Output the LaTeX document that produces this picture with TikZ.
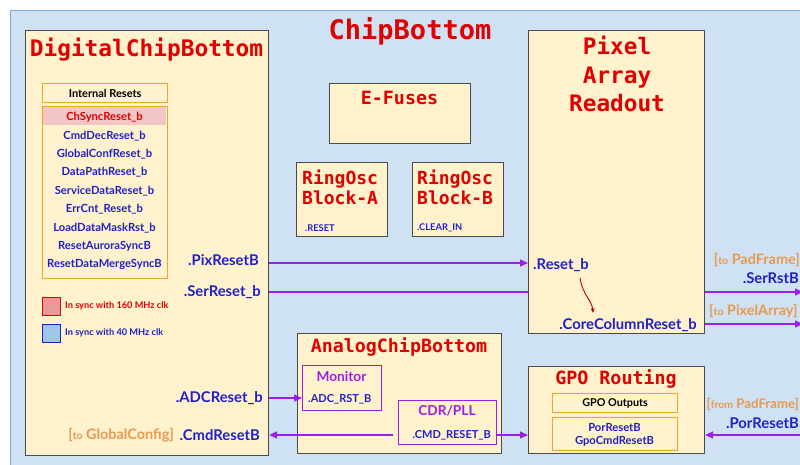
\documentclass[tikz,border=0pt]{standalone}
\usepackage{fontspec}
\setmainfont{Lato}
\newfontfamily\mono{DejaVu Sans Mono}
\usetikzlibrary{arrows.meta}
\definecolor{chipbg}{HTML}{CFE2F3}
\definecolor{chipline}{HTML}{7EA9E0}
\definecolor{blockfill}{HTML}{FFF2CC}
\definecolor{blockline}{HTML}{4A4A4A}
\definecolor{titlered}{HTML}{E00000}
\definecolor{sigblue}{HTML}{2020C8}
\definecolor{portorange}{HTML}{E89A50}
\definecolor{boxorange}{HTML}{F0A526}
\definecolor{wire}{HTML}{9B1FE8}
\definecolor{pinkrow}{HTML}{F2C6C6}
\definecolor{legred}{HTML}{EA9999}
\definecolor{legblue}{HTML}{9FC5E8}
\tikzset{
  block/.style={draw=blockline, fill=blockfill, line width=1.1pt, anchor=north west, inner sep=0pt},
  subbox/.style={draw=boxorange, line width=1.3pt, anchor=north west, inner sep=0pt},
  anabox/.style={draw=wire, line width=1.3pt, anchor=north west, inner sep=0pt},
  btitle/.style={text=titlered, font=\mono\bfseries, align=center, inner sep=0pt},
  item/.style={text=sigblue, font=\bfseries\fontsize{11.2}{12}\selectfont, inner sep=0pt},
  port/.style={text=sigblue, font=\bfseries\fontsize{14.8}{15}\selectfont, inner sep=0pt},
  smallport/.style={text=sigblue, font=\bfseries\fontsize{11}{12}\selectfont, inner sep=0pt},
  tinyport/.style={text=sigblue, font=\bfseries\fontsize{9.3}{10}\selectfont, inner sep=0pt},
  tagtext/.style={text=portorange, font=\bfseries\fontsize{14.4}{15}\selectfont, inner sep=0pt},
  legendtext/.style={font=\bfseries\fontsize{9.2}{10}\selectfont, inner sep=0pt, anchor=west},
  sig/.style={draw=wire, line width=1.4pt, -{Triangle[length=8pt,width=7pt]}}
}
\newcommand{\tosmall}[1]{{\fontsize{10.5}{11}\selectfont #1}}
\begin{document}
\begin{tikzpicture}[x=1pt,y=-1pt]
\useasboundingbox (0,0) rectangle (800,465);
% outer chip area
\fill[white] (0,0) rectangle (800,465);
\node[draw=chipline, fill=chipbg, line width=1pt, anchor=north west, minimum width=820pt, minimum height=480pt, inner sep=0pt] (chip) at (10,10) {};
\node[btitle, font=\mono\bfseries\fontsize{27}{28}\selectfont] (chiptitle) at (410,31) {ChipBottom};

% digital block
\node[block, minimum width=243pt, minimum height=425pt] (dig) at (25,30) {};
\node[btitle, font=\mono\bfseries\fontsize{22.8}{24}\selectfont] (digtitle) at (146.5,50) {DigitalChipBottom};
\node[subbox, fill=blockfill, minimum width=125pt, minimum height=19pt] (irhead) at (42,83) {};
\node[font=\bfseries\fontsize{11}{12}\selectfont, inner sep=0pt] (irheadtext) at (irhead.center) {Internal Resets};
\node[subbox, minimum width=125pt, minimum height=172pt] (irlist) at (42,106) {};
\fill[pinkrow] ([xshift=0.7pt,yshift=-0.7pt]irlist.north west) rectangle ([xshift=-0.7pt]167,125);
\node[item, text=titlered] (r1) at (104.5,117) {ChSyncReset\_b};
\node[item] (r2) at (104.5,136) {CmdDecReset\_b};
\node[item] (r3) at (104.5,154) {GlobalConfReset\_b};
\node[item] (r4) at (104.5,172) {DataPathReset\_b};
\node[item] (r5) at (104.5,191) {ServiceDataReset\_b};
\node[item] (r6) at (104.5,209) {ErrCnt\_Reset\_b};
\node[item] (r7) at (104.5,228) {LoadDataMaskRst\_b};
\node[item] (r8) at (104.5,246) {ResetAuroraSyncB};
\node[item] (r9) at (104.5,264) {ResetDataMergeSyncB};
% legend
\node[draw=titlered, fill=legred, line width=1.2pt, minimum size=18pt, anchor=north west, inner sep=0pt] (legr) at (42,297) {};
\node[legendtext, text=titlered] (legrtext) at (65,306) {In sync with 160 MHz clk};
\node[draw=sigblue, fill=legblue, line width=1.2pt, minimum size=18pt, anchor=north west, inner sep=0pt] (legb) at (42,324) {};
\node[legendtext, text=sigblue] (legbtext) at (65,333) {In sync with 40 MHz clk};
% digital ports
\node[port, anchor=east] (pixout) at (259,260) {.PixResetB};
\node[port, anchor=east] (serout) at (261,292) {.SerReset\_b};
\node[port, anchor=east] (adcout) at (263,398) {.ADCReset\_b};
\node[port, anchor=east] (cmdin) at (260,435) {.CmdResetB};
\node[tagtext, anchor=east] (gctag) at (174,435) {[\tosmall{to} GlobalConfig]};

% serial reset runs underneath the pixel readout block
\coordinate (serend) at (803,292);
\draw[sig] (dig.east |- 0,292) -- (serend);

% e-fuses and ring oscillators
\node[block, minimum width=141pt, minimum height=60pt] (efuse) at (329,83) {};
\node[btitle, font=\mono\bfseries\fontsize{18.3}{20}\selectfont] (efusetitle) at (399.5,98) {E-Fuses};
\node[block, minimum width=91pt, minimum height=74pt] (roa) at (296,162) {};
\node[btitle, font=\mono\bfseries\fontsize{18}{21}\selectfont, anchor=north west] (roatitle) at (302,170) {RingOsc\\[-1pt]Block-A};
\node[tinyport, anchor=west] (roaport) at (305,228) {.RESET};
\node[block, minimum width=91pt, minimum height=74pt] (rob) at (412,162) {};
\node[btitle, font=\mono\bfseries\fontsize{18}{21}\selectfont, anchor=north west] (robtitle) at (417,170) {RingOsc\\[-1pt]Block-B};
\node[tinyport, anchor=west] (robport) at (417,228) {.CLEAR\_IN};

% pixel array readout
\node[block, minimum width=176pt, minimum height=303pt] (pix) at (528,30) {};
\node[btitle, font=\mono\bfseries\fontsize{22.7}{28.5}\selectfont, anchor=north] (pixtitle) at (617,36) {Pixel\\Array\\Readout};
\node[port, anchor=west] (pixin) at (533,265) {.Reset\_b};
\node[port, anchor=east] (coreout) at (697,325) {.CoreColumnReset\_b};
\coordinate (rstart) at (580,278);
\coordinate (rend) at (593,313);
\draw[draw=titlered!85!black, line width=0.9pt, -{Stealth[length=5pt,width=4pt]}] (rstart) .. controls (583,296) and (592,300) .. (rend);
\draw[sig] (dig.east |- 0,263) -- (pix.west |- 0,263);
\coordinate (coreend) at (803,324);
\draw[sig] (pix.east |- 0,324) -- (coreend);
\node[tagtext, anchor=east] (padtag) at (800,260) {[\tosmall{to} PadFrame]};
\node[port, anchor=east] (serrst) at (799,278) {.SerRstB};
\node[tagtext, anchor=west] (patag) at (709,311) {[\tosmall{to} PixelArray]};

% analog block
\node[block, minimum width=204pt, minimum height=120pt] (ana) at (297,333) {};
\node[btitle, font=\mono\bfseries\fontsize{18.3}{20}\selectfont] (anatitle) at (399,347) {AnalogChipBottom};
\node[anabox, minimum width=79pt, minimum height=45pt] (mon) at (302,365) {};
\node[text=wire, font=\bfseries\fontsize{13.7}{14}\selectfont, inner sep=0pt] (montitle) at (341.5,376) {Monitor};
\node[smallport, anchor=west] (monport) at (308,399) {.ADC\_RST\_B};
\node[anabox, minimum width=98pt, minimum height=44pt] (cdr) at (398,400) {};
\node[text=wire, font=\bfseries\fontsize{13.7}{14}\selectfont, inner sep=0pt] (cdrtitle) at (447,411) {CDR/PLL};
\node[smallport, anchor=east] (cdrport) at (491,435) {.CMD\_RESET\_B};
\draw[sig] (dig.east |- 0,398) -- (mon.west |- 0,398);

% gpo routing
\node[block, minimum width=176pt, minimum height=87pt] (gpo) at (528,366) {};
\node[btitle, font=\mono\bfseries\fontsize{18.3}{20}\selectfont] (gpotitle) at (616,379) {GPO Routing};
\node[subbox, minimum width=125pt, minimum height=19pt] (gpohead) at (552,393) {};
\node[font=\bfseries\fontsize{10.8}{11}\selectfont, inner sep=0pt] (gpoheadtext) at (gpohead.center) {GPO Outputs};
\node[subbox, minimum width=125pt, minimum height=33pt] (gpolist) at (552,417) {};
\node[item] (g1) at (614.5,427) {PorResetB};
\node[item] (g2) at (614.5,441) {GpoCmdResetB};

% command reset fan-out and power-on reset input
\coordinate (cmdsplitl) at (393,435);
\draw[sig] (cmdsplitl) -- (dig.east |- 0,435);
\draw[sig] (cdr.east |- 0,435) -- (gpo.west |- 0,435);
\coordinate (porstart) at (803,435);
\draw[sig] (porstart) -- (gpo.east |- 0,435);
\node[tagtext, font=\bfseries\fontsize{13.2}{14}\selectfont, anchor=east] (portag) at (799,404) {[\tosmall{from} PadFrame]};
\node[port, anchor=east] (porin) at (799,423) {.PorResetB};
\end{tikzpicture}
\end{document}
